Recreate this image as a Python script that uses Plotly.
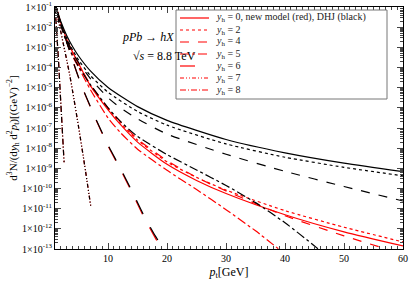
import numpy as np
import plotly.graph_objects as go

# ---------------- data (log10 of d3N/(dy d2pt)) ----------------
# DHJ (black)
dhj0_pt = [1.2, 1.5, 2, 3, 4, 5, 7, 10, 15, 20, 30, 40, 50, 60]
dhj0_lg = [-1.0, -1.30, -1.73, -2.42, -2.97, -3.43, -4.17, -4.99, -5.94, -6.62, -7.57, -8.23, -8.74, -9.16]

dhj2_pt = [1.2, 1.5, 2, 3, 4, 5, 7, 10, 15, 20, 30, 40, 50, 60]
dhj2_lg = [-1.05, -1.37, -1.83, -2.56, -3.14, -3.63, -4.40, -5.23, -6.18, -6.86, -7.79, -8.45, -8.95, -9.37]

dhj4_pt = [1.2, 1.5, 2, 3, 4, 5, 7, 10, 12, 15, 20, 30, 40, 50, 60]
dhj4_lg = [-1.0, -1.35, -1.85, -2.65, -3.25, -3.75, -4.55, -5.5, -5.98, -6.55, -7.3, -8.3, -9.15, -9.9, -10.62]

dhj5_pt = [1.2, 1.5, 2, 3, 4, 5, 7, 10, 12, 15, 20, 25, 30, 35, 40, 45, 48]
dhj5_lg = [-1.0, -1.38, -1.92, -2.78, -3.42, -3.95, -4.85, -6.0, -6.65, -7.42, -8.32, -9.08, -9.85, -10.7, -11.7, -12.85, -13.6]

dhj6_pt = [1.2, 1.5, 2, 3, 4, 5, 6, 8, 10, 12, 14, 16, 18, 19.4, 19.9]
dhj6_lg = [-1.0, -1.35, -1.85, -2.75, -3.65, -4.5, -5.25, -6.6, -7.85, -8.95, -10.1, -11.3, -12.35, -13.0, -13.4]

dhj7_pt = [1.1, 1.5, 2, 2.5, 3, 3.5, 4, 5, 6, 7.1]
dhj7_lg = [-1.0, -1.55, -2.25, -2.95, -3.65, -4.38, -5.2, -6.95, -8.8, -10.95]

dhj8_pt = [1.0, 1.3, 1.6, 1.86, 2.2, 2.54]
dhj8_lg = [-1.0, -2.3, -3.7, -5.1, -6.9, -8.7]

# new model (red)
new0_pt = [1.2, 1.5, 2, 3, 4, 5, 7, 10, 12, 15, 20, 25, 30, 40, 50, 60]
new0_lg = [-1.0, -1.3, -1.8, -2.6, -3.25, -3.8, -4.9, -6.1, -6.8, -7.7, -8.8, -9.6, -10.25, -11.3, -12.15, -12.85]

new2_pt = [1.2, 1.5, 2, 3, 4, 5, 7, 10, 12, 15, 20, 25, 30, 40, 50, 60]
new2_lg = [-1.0, -1.32, -1.83, -2.63, -3.28, -3.83, -4.9, -6.05, -6.72, -7.6, -8.68, -9.45, -10.08, -11.1, -11.92, -12.65]

new4_pt = [1.2, 1.5, 2, 3, 4, 5, 7, 10, 12, 15, 20, 25, 30, 40, 50, 60]
new4_lg = [-1.0, -1.32, -1.83, -2.63, -3.28, -3.82, -4.85, -6.0, -6.65, -7.55, -8.62, -9.45, -10.12, -11.35, -12.35, -13.25]

new5_pt = [1.2, 1.5, 2, 3, 4, 5, 7, 10, 12, 15, 20, 25, 30, 35, 40]
new5_lg = [-1.0, -1.35, -1.9, -2.75, -3.45, -4.0, -5.1, -6.5, -7.2, -8.05, -9.1, -10.05, -11.05, -12.1, -13.25]

new6_pt = [1.2, 1.5, 2, 3, 4, 5, 6, 8, 10, 12, 14, 16, 18, 19.2, 19.7]
new6_lg = [-1.0, -1.35, -1.85, -2.75, -3.65, -4.5, -5.27, -6.63, -7.9, -9.0, -10.17, -11.38, -12.45, -13.1, -13.5]

new7_pt = dhj7_pt
new7_lg = dhj7_lg
new8_pt = dhj8_pt
new8_lg = dhj8_lg

labels = [
    "<i>y</i><sub>h</sub> = 0, new model (red), DHJ (black)",
    "<i>y</i><sub>h</sub> = 2",
    "<i>y</i><sub>h</sub> = 4",
    "<i>y</i><sub>h</sub> = 5",
    "<i>y</i><sub>h</sub> = 6",
    "<i>y</i><sub>h</sub> = 7",
    "<i>y</i><sub>h</sub> = 8",
]
ytick_exp = list(range(-13, 0))
xtick_vals = [10, 20, 30, 40, 50, 60]

# ---------------- styling ----------------
dashes = ["solid", "dot", "dash", "dashdot", "longdash",
          "4px,2px,1px,2px,1px,2px", "6px,2px,1px,2px"]
RED = "#ff0000"
BLK = "#000000"

red_sets = [(new0_pt, new0_lg), (new2_pt, new2_lg), (new4_pt, new4_lg), (new5_pt, new5_lg),
            (new6_pt, new6_lg), (new7_pt, new7_lg), (new8_pt, new8_lg)]
blk_sets = [(dhj0_pt, dhj0_lg), (dhj2_pt, dhj2_lg), (dhj4_pt, dhj4_lg), (dhj5_pt, dhj5_lg),
            (dhj6_pt, dhj6_lg), (dhj7_pt, dhj7_lg), (dhj8_pt, dhj8_lg)]

fig = go.Figure()
for (pt, lg), d, name in zip(red_sets, dashes, labels):
    fig.add_trace(go.Scatter(x=pt, y=10 ** np.array(lg), mode="lines", name=name,
                             line=dict(color=RED, width=1.2, dash=d, shape="spline", smoothing=0.6)))
for (pt, lg), d in zip(blk_sets, dashes):
    fig.add_trace(go.Scatter(x=pt, y=10 ** np.array(lg), mode="lines", showlegend=False,
                             line=dict(color=BLK, width=1.2, dash=d, shape="spline", smoothing=0.6)))

# ---------------- manual legend (compact, like the original) ----------------
L, R, T, B = 55, 403, 7, 249
def px2x(px):
    return (px - L) / (R - L)
def py2y(py):
    return 1 - (py - T) / (B - T)

fig.add_shape(type="rect", xref="x domain", yref="y domain",
              x0=px2x(176), x1=px2x(387), y0=py2y(99), y1=py2y(10),
              line=dict(color="#777777", width=1), fillcolor="white", layer="above")
row_y = [18, 30, 42, 54, 66, 78, 90]
for ry, d, name in zip(row_y, dashes, labels):
    fig.add_shape(type="line", xref="x domain", yref="y domain",
                  x0=px2x(180), x1=px2x(209), y0=py2y(ry), y1=py2y(ry),
                  line=dict(color=RED, width=1.2, dash=d), layer="above")
    fig.add_annotation(xref="x domain", yref="y domain", x=px2x(214), y=py2y(ry),
                       text=name, showarrow=False, xanchor="left", yanchor="middle",
                       font=dict(size=10, color="#222222"))

fig.add_annotation(xref="x domain", yref="y domain", x=px2x(120), y=py2y(28),
                   text="<i>pPb</i> → <i>hX</i>", showarrow=False, font=dict(size=12))
fig.add_annotation(xref="x domain", yref="y domain", x=px2x(131), y=py2y(47),
                   text="√<i>s</i> = 8.8 TeV", showarrow=False, font=dict(size=12))

minor_vals = [k * 10.0 ** e for e in range(-13, -1) for k in range(2, 10)]
fig.update_layout(
    width=409, height=281,
    margin=dict(l=55, r=6, t=7, b=32),
    plot_bgcolor="white", paper_bgcolor="white",
    font=dict(family="Liberation Serif, DejaVu Serif, serif", size=10, color="black"),
    showlegend=False,
)
fig.update_xaxes(range=[1, 60], tickvals=xtick_vals, ticks="inside", ticklen=6, automargin=False,
                 minor=dict(dtick=1, tick0=0, ticks="inside", ticklen=3, showgrid=False),
                 showline=True, linecolor="black", linewidth=1, mirror="allticks",
                 showgrid=False, zeroline=False, tickfont=dict(size=10),
                 title=dict(text="<i>p</i><sub>t</sub>[GeV]", standoff=4, font=dict(size=12)))
fig.update_yaxes(type="log", range=[-13, -1], automargin=False,
                 tickmode="array", tickvals=[10.0 ** e for e in ytick_exp],
                 ticktext=["1×10<sup>%d</sup>" % e for e in ytick_exp],
                 ticks="inside", ticklen=6,
                 minor=dict(tickmode="array", tickvals=minor_vals, ticks="inside", ticklen=3, showgrid=False),
                 showline=True, linecolor="black", linewidth=1, mirror="allticks",
                 showgrid=False, zeroline=False,
                 title=dict(text="d<sup>3</sup>N/(d<i>y</i><sub>h</sub> d<sup>2</sup><i>p</i><sub>t</sub>)[(GeV)<sup>−2</sup>]",
                            standoff=2, font=dict(size=11)))

fig.write_html("out.html", config={"displayModeBar": False},
               post_script="document.body.style.margin='0';document.body.style.overflow='hidden';")
